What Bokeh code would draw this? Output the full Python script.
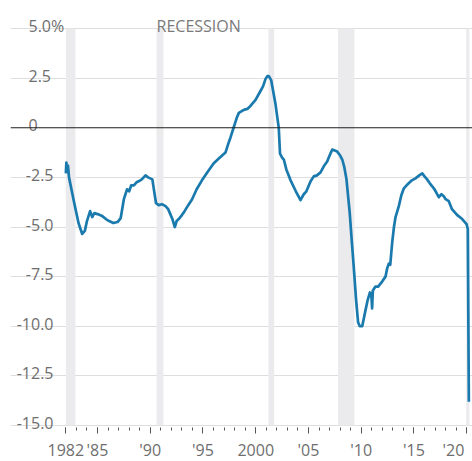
from bokeh.plotting import figure
from bokeh.models import FixedTicker, Span, Label, Range1d, LinearAxis
from bokeh.core.properties import value
from bokeh.embed import file_html
from bokeh.resources import INLINE

# Federal budget balance, 12-month rolling, % of GDP
years = [
    1982.0, 1982.05, 1982.12, 1982.2, 1982.3, 1982.8, 1983.2, 1983.55, 1983.8, 1984.0,
    1984.3, 1984.5, 1984.7, 1985.0, 1985.45, 1985.8, 1986.1, 1986.5, 1986.9, 1987.2,
    1987.5, 1987.8, 1988.0, 1988.2, 1988.45, 1988.7, 1988.9, 1989.2, 1989.55, 1989.8,
    1990.2, 1990.4, 1990.55, 1990.8, 1991.1, 1991.45, 1991.7, 1991.9, 1992.1, 1992.33,
    1992.5, 1992.7, 1993.0, 1993.2, 1993.6, 1993.97, 1994.4, 1994.9, 1995.4, 1996.0,
    1996.5, 1997.13, 1997.4, 1997.6, 1997.9, 1998.2, 1998.4, 1998.87, 1999.2, 1999.5,
    1999.98, 2000.45, 2000.7, 2000.92, 2001.1, 2001.24, 2001.46, 2001.7, 2001.87, 2002.05,
    2002.18, 2002.3, 2002.5, 2002.66, 2002.9, 2003.3, 2003.8, 2004.24, 2004.55, 2004.8,
    2005.2, 2005.5, 2005.8, 2006.14, 2006.5, 2006.77, 2007.0, 2007.25, 2007.5, 2007.72,
    2008.0, 2008.2, 2008.4, 2008.6, 2008.91, 2009.1, 2009.3, 2009.5, 2009.7, 2009.86,
    2010.09, 2010.25, 2010.4, 2010.6, 2010.82, 2010.95, 2011.03, 2011.1, 2011.35, 2011.6,
    2011.98, 2012.3, 2012.45, 2012.61, 2012.75, 2012.93, 2013.1, 2013.25, 2013.56, 2013.8,
    2014.04, 2014.3, 2014.5, 2014.8, 2015.14, 2015.5, 2015.78, 2016.0, 2016.24, 2016.5,
    2016.88, 2017.1, 2017.35, 2017.6, 2017.82, 2018.0, 2018.3, 2018.6, 2018.85, 2019.1,
    2019.57, 2019.98, 2020.1, 2020.2,
]
deficit_pct = [
    -2.3, -1.75, -2.2, -1.9, -2.5, -3.8, -4.8, -5.35, -5.2, -4.7,
    -4.2, -4.5, -4.3, -4.35, -4.45, -4.6, -4.7, -4.8, -4.75, -4.55,
    -3.6, -3.1, -3.2, -2.9, -2.9, -2.75, -2.7, -2.6, -2.4, -2.5,
    -2.6, -3.3, -3.8, -3.9, -3.85, -3.95, -4.1, -4.35, -4.6, -5.0,
    -4.7, -4.6, -4.4, -4.25, -3.9, -3.6, -3.1, -2.65, -2.25, -1.8,
    -1.55, -1.25, -0.8, -0.5, 0.0, 0.5, 0.75, 0.9, 0.95, 1.1,
    1.4, 1.85, 2.1, 2.45, 2.6, 2.6, 2.4, 1.7, 1.2, 0.5,
    0.0, -1.3, -1.5, -1.6, -2.1, -2.65, -3.2, -3.65, -3.35, -3.2,
    -2.7, -2.45, -2.4, -2.25, -1.9, -1.7, -1.4, -1.1, -1.15, -1.2,
    -1.4, -1.6, -2.0, -2.6, -4.3, -5.7, -7.1, -8.6, -9.8, -10.0,
    -10.0, -9.6, -9.2, -8.7, -8.3, -8.35, -9.1, -8.2, -8.0, -8.0,
    -7.75, -7.5, -7.1, -6.85, -6.9, -5.8, -5.0, -4.5, -3.95, -3.4,
    -3.05, -2.9, -2.8, -2.65, -2.55, -2.4, -2.3, -2.45, -2.6, -2.8,
    -3.05, -3.25, -3.5, -3.35, -3.45, -3.6, -3.7, -4.1, -4.25, -4.4,
    -4.6, -4.85, -5.1, -13.8,
]

rec_start = [1982.0, 1990.6, 2001.2, 2007.8, 2019.95]
rec_end = [1982.9, 1991.25, 2001.75, 2009.35, 2020.25]

y_ticks = [5.0, 2.5, 0.0, -2.5, -5.0, -7.5, -10.0, -12.5, -15.0]
y_tick_labels = ["5.0%", "2.5", "0", "-2.5", "-5.0", "-7.5", "-10.0", "-12.5", "-15.0"]
x_ticks = [1982, 1985, 1990, 1995, 2000, 2005, 2010, 2015, 2020]
x_tick_labels = ["1982", "'85", "'90", "'95", "2000", "'05", "'10", "'15", "'20"]
x_minor = list(range(1982, 2021))

FONT = "Open Sans"
GREY = "#6e6e6e"
PX_PER_UNIT = 19.85
LAST_LABEL_X = 2018.74  # the last year label sits left of its tick, inside the chart

p = figure(width=472, height=461,
           x_range=Range1d(1976.754, 2020.545), y_range=Range1d(-16.8136, 6.4106),
           output_backend="svg", toolbar_location=None, y_axis_location=None,
           min_border_left=10, min_border_right=0, min_border_top=0, min_border_bottom=0)
p.outline_line_color = None
p.background_fill_color = "white"
p.border_fill_color = "white"

# grid
p.xgrid.visible = False
p.ygrid.ticker = FixedTicker(ticks=[t for t in y_ticks if t != 0])
p.ygrid.grid_line_color = "#dedede"
p.ygrid.grid_line_width = 1

# recession bands
p.quad(left=rec_start, right=rec_end, bottom=min(y_ticks), top=max(y_ticks),
       fill_color="#ebebed", line_color=None)

p.add_layout(Span(location=0, dimension="width", line_color="#1e1e1e", line_width=1.2))

p.line(years, deficit_pct, line_color="#1a7aae", line_width=2.7, line_join="round")

# y labels drawn inside the plot, above gridlines
lift = 2.5 / PX_PER_UNIT
pos = [(v, l) for v, l in zip(y_ticks, y_tick_labels) if v >= 0]
neg = [(v, l) for v, l in zip(y_ticks, y_tick_labels) if v < 0]
p.text(x=[1978.46] * len(pos), y=[v + lift for v, _ in pos], text=[l for _, l in pos],
       text_font=value(FONT), text_font_size="16px", text_color=GREY,
       text_align="left", text_baseline="alphabetic")
p.text(x=[1980.83] * len(neg), y=[v + lift for v, _ in neg], text=[l for _, l in neg],
       text_font=value(FONT), text_font_size="16px", text_color=GREY,
       text_align="right", text_baseline="alphabetic")

p.add_layout(Label(x=rec_start[1], y=max(y_ticks) + 3.0 / PX_PER_UNIT, text="RECESSION",
                   text_font=FONT, text_font_size="16px", text_color="#7a7a7a",
                   text_align="left", text_baseline="alphabetic"))


def style_axis(a, tick_color):
    a.fixed_location = min(y_ticks) - 2.0 / PX_PER_UNIT
    a.axis_line_color = None
    a.major_tick_in = 0
    a.major_tick_out = 6
    a.minor_tick_in = 0
    a.minor_tick_out = 3
    a.major_tick_line_color = tick_color
    a.minor_tick_line_color = tick_color
    a.major_label_text_font = FONT
    a.major_label_text_font_size = "16px"
    a.major_label_text_color = GREY
    a.major_label_standoff = 5


# main x axis: ticks and all labels except the last one
ax = p.xaxis[0]
ax.ticker = FixedTicker(ticks=x_ticks, minor_ticks=x_minor)
overrides = {t: l for t, l in zip(x_ticks, x_tick_labels)}
overrides[x_ticks[-1]] = ""
ax.major_label_overrides = overrides
style_axis(ax, "#555555")

# helper axis carrying only the last label, shifted left of its tick
ax2 = LinearAxis(ticker=FixedTicker(ticks=[LAST_LABEL_X]),
                 major_label_overrides={LAST_LABEL_X: x_tick_labels[-1]})
style_axis(ax2, None)
p.add_layout(ax2, "below")

open("out.html", "w").write(file_html(p, INLINE))
